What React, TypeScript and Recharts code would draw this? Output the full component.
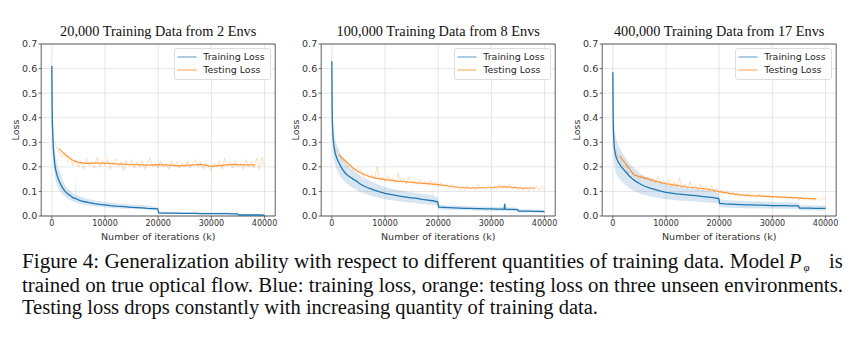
import React from 'react';
import {
  ComposedChart, Line, Area, XAxis, YAxis, CartesianGrid, ReferenceArea, Legend, Label, Customized,
} from 'recharts';

// ---------- data ----------
const titles = [
  '20,000 Training Data from 2 Envs',
  '100,000 Training Data from 8 Envs',
  '400,000 Training Data from 17 Envs',
];
const legendLabels = ['Training Loss', 'Testing Loss'];
const xTicks = [0, 10000, 20000, 30000, 40000];
const yTicks = [0, 0.1, 0.2, 0.3, 0.4, 0.5, 0.6, 0.7];

const trainX = [0, 50, 100, 200, 300, 500, 700, 1000, 1300, 1600, 2000, 2500, 3000, 3500, 4000,
  4400, 4500, 4600,
  5000, 5500, 6000, 7000, 8000, 9000, 10000, 11000, 12000, 13000, 14000,
  14900, 15000, 15100,
  16000, 17000, 18000,
  18900, 19000, 19100,
  19900, 20100,
  21000, 22000, 23000, 24000, 25000, 26000, 27000, 28000, 29000, 30000, 31000, 32000,
  32400, 32500, 32600,
  33000, 34000, 34900, 35100,
  36000, 37000, 38000, 39000, 40000];

const trainSmooth1 = [0.61, 0.45, 0.38, 0.32, 0.27, 0.22, 0.19, 0.165, 0.145, 0.132, 0.115, 0.1, 0.09, 0.082, 0.074,
  0.071, 0.072, 0.07,
  0.066, 0.062, 0.059, 0.054, 0.05, 0.047, 0.045, 0.042, 0.04, 0.039, 0.037,
  0.035, 0.035, 0.035,
  0.034, 0.033, 0.031,
  0.03, 0.03, 0.03,
  0.029, 0.013,
  0.012, 0.012, 0.012, 0.011, 0.011, 0.011, 0.011, 0.01, 0.01, 0.01, 0.01, 0.01,
  0.01, 0.01, 0.01,
  0.01, 0.009, 0.009, 0.004,
  0.004, 0.004, 0.004, 0.004, 0.003];
const trainLow1 = [0.4, 0.34, 0.29, 0.24, 0.21, 0.17, 0.145, 0.125, 0.11, 0.1, 0.088, 0.078, 0.07, 0.064, 0.058,
  0.056, 0.056, 0.055,
  0.052, 0.049, 0.047, 0.043, 0.04, 0.038, 0.036, 0.034, 0.032, 0.031, 0.03,
  0.029, 0.029, 0.029,
  0.028, 0.027, 0.025,
  0.024, 0.024, 0.024,
  0.023, 0.009,
  0.009, 0.009, 0.008, 0.008, 0.008, 0.008, 0.008, 0.007, 0.007, 0.007, 0.007, 0.007,
  0.007, 0.007, 0.007,
  0.007, 0.006, 0.006, 0.002,
  0.002, 0.002, 0.002, 0.002, 0.001];
const trainHigh1 = [0.7, 0.6, 0.5, 0.41, 0.34, 0.28, 0.245, 0.21, 0.19, 0.175, 0.15, 0.125, 0.112, 0.102, 0.092,
  0.088, 0.16, 0.087,
  0.082, 0.078, 0.074, 0.068, 0.064, 0.06, 0.057, 0.054, 0.052, 0.05, 0.048,
  0.046, 0.05, 0.046,
  0.045, 0.044, 0.043,
  0.04, 0.042, 0.04,
  0.037, 0.018,
  0.017, 0.016, 0.016, 0.015, 0.015, 0.015, 0.015, 0.014, 0.014, 0.014, 0.014, 0.014,
  0.014, 0.014, 0.014,
  0.014, 0.013, 0.013, 0.008,
  0.007, 0.007, 0.007, 0.007, 0.006];

const trainSmooth2 = [0.63, 0.45, 0.38, 0.33, 0.3, 0.27, 0.25, 0.232, 0.218, 0.205, 0.19, 0.175, 0.165, 0.158, 0.15,
  0.145, 0.144, 0.143,
  0.135, 0.128, 0.122, 0.113, 0.105, 0.098, 0.092, 0.088, 0.084, 0.08, 0.077,
  0.074, 0.074, 0.074,
  0.072, 0.068, 0.065,
  0.062, 0.062, 0.061,
  0.058, 0.036,
  0.035, 0.034, 0.033, 0.032, 0.031, 0.031, 0.03, 0.03, 0.029, 0.029, 0.028, 0.028,
  0.028, 0.05, 0.028,
  0.027, 0.027, 0.026, 0.02,
  0.02, 0.02, 0.019, 0.019, 0.018];
const trainLow2 = [0.45, 0.36, 0.3, 0.26, 0.24, 0.22, 0.2, 0.185, 0.17, 0.16, 0.15, 0.138, 0.128, 0.12, 0.115,
  0.11, 0.11, 0.109,
  0.102, 0.097, 0.093, 0.085, 0.078, 0.073, 0.068, 0.065, 0.062, 0.059, 0.056,
  0.054, 0.054, 0.054,
  0.052, 0.049, 0.047,
  0.045, 0.045, 0.045,
  0.042, 0.026,
  0.025, 0.025, 0.024, 0.023, 0.023, 0.022, 0.022, 0.021, 0.021, 0.021, 0.02, 0.02,
  0.02, 0.02, 0.02,
  0.02, 0.019, 0.019, 0.014,
  0.014, 0.014, 0.013, 0.013, 0.013];
const trainHigh2 = [0.7, 0.58, 0.48, 0.41, 0.37, 0.33, 0.305, 0.285, 0.27, 0.255, 0.24, 0.22, 0.205, 0.195, 0.185,
  0.18, 0.178, 0.177,
  0.17, 0.162, 0.155, 0.145, 0.135, 0.125, 0.118, 0.112, 0.108, 0.104, 0.1,
  0.097, 0.112, 0.096,
  0.093, 0.09, 0.087,
  0.083, 0.106, 0.082,
  0.075, 0.047,
  0.045, 0.044, 0.043, 0.042, 0.041, 0.04, 0.039, 0.039, 0.038, 0.038, 0.037, 0.037,
  0.037, 0.055, 0.037,
  0.036, 0.035, 0.034, 0.027,
  0.027, 0.026, 0.026, 0.025, 0.025];

const trainSmooth3 = [0.585, 0.42, 0.35, 0.3, 0.275, 0.25, 0.235, 0.22, 0.21, 0.2, 0.19, 0.178, 0.165, 0.155, 0.146,
  0.14, 0.139, 0.138,
  0.132, 0.126, 0.121, 0.113, 0.107, 0.101, 0.096, 0.093, 0.09, 0.088, 0.086,
  0.084, 0.084, 0.084,
  0.082, 0.079, 0.077,
  0.075, 0.075, 0.074,
  0.071, 0.051,
  0.049, 0.048, 0.047, 0.046, 0.045, 0.045, 0.044, 0.044, 0.043, 0.042, 0.042, 0.042,
  0.042, 0.042, 0.042,
  0.041, 0.041, 0.041, 0.032,
  0.032, 0.032, 0.031, 0.031, 0.031];
const trainLow3 = [0.4, 0.3, 0.26, 0.22, 0.2, 0.18, 0.17, 0.16, 0.15, 0.142, 0.133, 0.124, 0.115, 0.108, 0.102,
  0.098, 0.097, 0.096,
  0.093, 0.089, 0.086, 0.08, 0.076, 0.072, 0.068, 0.066, 0.064, 0.062, 0.061,
  0.06, 0.06, 0.06,
  0.058, 0.056, 0.055,
  0.053, 0.053, 0.053,
  0.051, 0.036,
  0.035, 0.034, 0.033, 0.033, 0.032, 0.032, 0.031, 0.031, 0.031, 0.03, 0.03, 0.03,
  0.03, 0.03, 0.03,
  0.029, 0.029, 0.029, 0.022,
  0.022, 0.022, 0.022, 0.021, 0.021];
const trainHigh3 = [0.7, 0.56, 0.46, 0.39, 0.36, 0.33, 0.31, 0.29, 0.275, 0.265, 0.25, 0.235, 0.22, 0.205, 0.195,
  0.188, 0.187, 0.186,
  0.175, 0.168, 0.162, 0.152, 0.142, 0.135, 0.128, 0.124, 0.12, 0.117, 0.114,
  0.112, 0.112, 0.112,
  0.109, 0.106, 0.103,
  0.1, 0.1, 0.099,
  0.095, 0.068,
  0.066, 0.064, 0.063, 0.062, 0.061, 0.06, 0.06, 0.059, 0.058, 0.057, 0.057, 0.056,
  0.056, 0.056, 0.056,
  0.056, 0.055, 0.055, 0.045,
  0.044, 0.044, 0.043, 0.043, 0.043];

const testSmoothX = [1300, 2500, 4000, 5000, 6500, 8000, 10000, 12000, 14000, 16000, 18000, 20000, 22000, 24000, 26000, 28000,
  30000, 32000, 34000, 36000, 38200];
const testSmooth1 = [0.274, 0.25, 0.226, 0.218, 0.214, 0.215, 0.215, 0.212, 0.21, 0.209, 0.207, 0.209, 0.207, 0.204, 0.207, 0.21,
  0.202, 0.206, 0.21, 0.208, 0.208];
const testSmooth2 = [0.25, 0.225, 0.195, 0.18, 0.165, 0.155, 0.148, 0.143, 0.139, 0.135, 0.132, 0.128, 0.122, 0.116, 0.114, 0.115,
  0.116, 0.119, 0.117, 0.113, 0.114];
const testSmooth3 = [0.246, 0.21, 0.167, 0.16, 0.152, 0.142, 0.132, 0.125, 0.118, 0.114, 0.108, 0.099, 0.092, 0.086, 0.083, 0.081,
  0.079, 0.077, 0.075, 0.072, 0.07];

const testRawX = [500, 1000, 1500, 2000, 2500, 3000, 3500, 4000, 4500, 5000, 5500, 6000, 6500, 7000, 7500, 8000, 8500, 9000, 9500, 10000,
  10500, 11000, 11500, 12000, 12500, 13000, 13500, 14000, 14500, 15000, 15500, 16000, 16500, 17000, 17500, 18000, 18500, 19000, 19500, 20000,
  20500, 21000, 21500, 22000, 22500, 23000, 23500, 24000, 24500, 25000, 25500, 26000, 26500, 27000, 27500, 28000, 28500, 29000, 29500, 30000,
  30500, 31000, 31500, 32000, 32500, 33000, 33500, 34000, 34500, 35000, 35500, 36000, 36500, 37000, 37500, 38000, 38500, 39000, 39500, 40000];
const testRaw1 = [0.305, 0.27, 0.255, 0.24, 0.26, 0.22, 0.235, 0.205, 0.23, 0.2, 0.225, 0.19, 0.235, 0.205, 0.22, 0.195, 0.24, 0.2, 0.225, 0.205,
  0.23, 0.19, 0.215, 0.235, 0.2, 0.22, 0.185, 0.225, 0.205, 0.23, 0.195, 0.22, 0.2, 0.225, 0.19, 0.215, 0.235, 0.2, 0.215, 0.195,
  0.225, 0.2, 0.215, 0.19, 0.225, 0.205, 0.22, 0.195, 0.215, 0.2, 0.225, 0.195, 0.215, 0.23, 0.2, 0.22, 0.19, 0.215, 0.2, 0.185,
  0.215, 0.2, 0.225, 0.19, 0.235, 0.205, 0.22, 0.195, 0.225, 0.2, 0.215, 0.19, 0.23, 0.2, 0.22, 0.195, 0.235, 0.19, 0.24, 0.2];
const testRaw2 = [0.28, 0.26, 0.245, 0.22, 0.23, 0.2, 0.21, 0.185, 0.19, 0.175, 0.19, 0.16, 0.175, 0.155, 0.17, 0.15, 0.2, 0.145, 0.16, 0.14,
  0.165, 0.14, 0.155, 0.135, 0.175, 0.14, 0.15, 0.13, 0.16, 0.135, 0.145, 0.128, 0.15, 0.13, 0.14, 0.125, 0.145, 0.125, 0.14, 0.12,
  0.135, 0.118, 0.13, 0.112, 0.13, 0.11, 0.125, 0.108, 0.12, 0.105, 0.125, 0.108, 0.12, 0.105, 0.128, 0.11, 0.12, 0.105, 0.125, 0.11,
  0.122, 0.108, 0.128, 0.11, 0.125, 0.112, 0.13, 0.108, 0.12, 0.105, 0.118, 0.104, 0.12, 0.102, 0.118, 0.106, 0.122, 0.105, 0.12, 0.11];
const testRaw3 = [0.27, 0.24, 0.23, 0.2, 0.21, 0.175, 0.18, 0.16, 0.17, 0.15, 0.165, 0.145, 0.16, 0.14, 0.155, 0.135, 0.16, 0.13, 0.145, 0.125,
  0.15, 0.12, 0.14, 0.118, 0.155, 0.115, 0.13, 0.112, 0.14, 0.11, 0.125, 0.105, 0.13, 0.105, 0.12, 0.1, 0.125, 0.098, 0.115, 0.092,
  0.105, 0.09, 0.1, 0.085, 0.098, 0.082, 0.095, 0.08, 0.092, 0.078, 0.09, 0.076, 0.088, 0.075, 0.09, 0.074, 0.086, 0.073, 0.085, 0.072,
  0.084, 0.07, 0.082, 0.07, 0.08, 0.068, 0.08, 0.067, 0.078, 0.065, 0.077, 0.064, 0.076, 0.063, 0.075, 0.062, 0.076, 0.062, 0.074, 0.068];

const captionLines = [
  'Figure 4: Generalization ability with respect to different quantities of training data. Model',
  'trained on true optical flow. Blue: training loss, orange: testing loss on three unseen environments.',
  'Testing loss drops constantly with increasing quantity of training data.',
];

// ---------- layout / style ----------
const BLUE = '#1f77b4';
const ORANGE = '#ff7f0e';
const SANS = 'DejaVu Sans, sans-serif';
const SERIF = 'Liberation Serif, Times New Roman, serif';
const CW = 290;
const CH = 250;
const PLOT_L = 41.2;
const PLOT_W = 234;
const PLOT_T = 44;
const PLOT_H = 172;
const chartLefts = [0, 280.3, 560.7];

const panels = [
  { smooth: trainSmooth1, low: trainLow1, high: trainHigh1, tSmooth: testSmooth1, tRaw: testRaw1 },
  { smooth: trainSmooth2, low: trainLow2, high: trainHigh2, tSmooth: testSmooth2, tRaw: testRaw2 },
  { smooth: trainSmooth3, low: trainLow3, high: trainHigh3, tSmooth: testSmooth3, tRaw: testRaw3 },
];

const LEG_W = 97;
const LEG_H = 32;

function LegendBox() {
  return (
    <svg width={LEG_W} height={LEG_H} style={{ display: 'block' }}>
      <rect x={0.5} y={0.5} width={LEG_W - 1} height={LEG_H - 1} rx={2.5} fill="#fff" fillOpacity={0.8} stroke="#d6d6d6" strokeWidth={0.8} />
      <line x1={3.5} x2={22.5} y1={9} y2={9} stroke={BLUE} strokeOpacity={0.5} strokeWidth={1.5} />
      <line x1={3.5} x2={22.5} y1={22} y2={22} stroke={ORANGE} strokeOpacity={0.5} strokeWidth={1.5} />
      <text x={29.3} y={12.3} fontFamily={SANS} fontSize={9.5} fill="#262626">{legendLabels[0]}</text>
      <text x={29.3} y={25.3} fontFamily={SANS} fontSize={9.5} fill="#262626">{legendLabels[1]}</text>
    </svg>
  );
}

function Panel({ idx }: { idx: number }) {
  const p = panels[idx];
  const band = trainX.map((x, i) => ({ x, range: [p.low[i], p.high[i]], smooth: p.smooth[i] }));
  const raw = testRawX.map((x, i) => ({ x, v: p.tRaw[i] }));
  const tsm = testSmoothX.map((x, i) => ({ x, v: p.tSmooth[i] }));
  const cx = PLOT_L + PLOT_W / 2;
  return (
    <div style={{ position: 'absolute', left: chartLefts[idx], top: 0, width: CW, height: CH }}>
      <ComposedChart width={CW} height={CH} margin={{ top: PLOT_T, right: CW - PLOT_L - PLOT_W, bottom: 0, left: 0 }}>
        <CartesianGrid stroke="#e3e3e3" strokeWidth={0.9} horizontalValues={yTicks} verticalValues={xTicks} />
        <XAxis
          type="number" dataKey="x" domain={[-2000, 42000]} ticks={xTicks} allowDataOverflow
          height={CH - PLOT_T - PLOT_H} axisLine={false} tickSize={2.5} tickMargin={2}
          tickLine={{ stroke: '#444', strokeWidth: 0.8 }}
          tick={{ fontFamily: SANS, fontSize: 8, fill: '#333' }}
        >
          <Label value="Number of iterations (k)" position="insideBottom" offset={10.5}
            style={{ fontFamily: SANS, fontSize: 9.5, fill: '#333' }} />
        </XAxis>
        <YAxis
          type="number" domain={[0, 0.7]} ticks={yTicks} allowDataOverflow width={PLOT_L}
          axisLine={false} tickSize={2.5} tickMargin={1.5}
          tickLine={{ stroke: '#444', strokeWidth: 0.8 }}
          tickFormatter={(v: number) => v.toFixed(1)}
          tick={{ fontFamily: SANS, fontSize: 9.5, fill: '#333' }}
        >
          <Label
            content={(props: any) => {
              const vb = props.viewBox || { x: 0, y: PLOT_T, width: PLOT_L, height: PLOT_H };
              const lx = vb.x + vb.width - 25.5;
              const ly = vb.y + vb.height / 2;
              return (
                <text x={lx} y={ly} transform={`rotate(-90 ${lx} ${ly})`} textAnchor="middle" dominantBaseline="central"
                  fontFamily={SANS} fontSize={9.5} fill="#333">Loss</text>
              );
            }}
          />
        </YAxis>
        <ReferenceArea x1={-2000} x2={42000} y1={0} y2={0.7} fill="none" stroke="#4d4d4d" strokeWidth={0.9} />
        <Area data={band} dataKey="range" type="linear" stroke="none" fill={BLUE} fillOpacity={0.18}
          isAnimationActive={false} legendType="none" />
        <Line data={band} dataKey="smooth" type="linear" stroke={BLUE} strokeWidth={1.3} dot={false}
          isAnimationActive={false} name={legendLabels[0]} />
        <Line data={raw} dataKey="v" type="linear" stroke={ORANGE} strokeOpacity={0.25} strokeWidth={1} dot={false}
          isAnimationActive={false} legendType="none" />
        <Line data={tsm} dataKey="v" type="linear" stroke={ORANGE} strokeOpacity={0.8} strokeWidth={1.2} dot={false}
          isAnimationActive={false} name={legendLabels[1]} />
        <Legend layout="vertical" align="center" verticalAlign="middle" content={() => <LegendBox />}
          wrapperStyle={{ left: PLOT_L + PLOT_W - 4 - LEG_W, top: PLOT_T + 4.3, width: LEG_W, height: LEG_H }} />
        <Customized component={() => (
          <text x={cx} y={36} textAnchor="middle" fontFamily={SERIF} fontSize={14.3} fill="#111">{titles[idx]}</text>
        )} />
      </ComposedChart>
    </div>
  );
}

export default function App() {
  return (
    <div style={{ position: 'absolute', left: 0, top: 0, width: 864, height: 339, background: '#fff', overflow: 'hidden' }}>
      <Panel idx={0} />
      <Panel idx={1} />
      <Panel idx={2} />
      <svg width={864} height={99} style={{ position: 'absolute', left: 0, top: 240 }}>
        <g fontFamily={SERIF} fontSize={20.5} fill="#111">
          <text x={22} y={28} textLength={763} lengthAdjust="spacingAndGlyphs">{captionLines[0]}</text>
          <text x={789} y={28}>
            <tspan fontStyle="italic">P</tspan>
            <tspan fontStyle="italic" fontSize={11} dx={2} dy={2.5}>φ</tspan>
          </text>
          <text x={829} y={28}>is</text>
          <text x={22} y={52} textLength={821} lengthAdjust="spacingAndGlyphs">{captionLines[1]}</text>
          <text x={22} y={74} textLength={576} lengthAdjust="spacingAndGlyphs">{captionLines[2]}</text>
        </g>
      </svg>
    </div>
  );
}
